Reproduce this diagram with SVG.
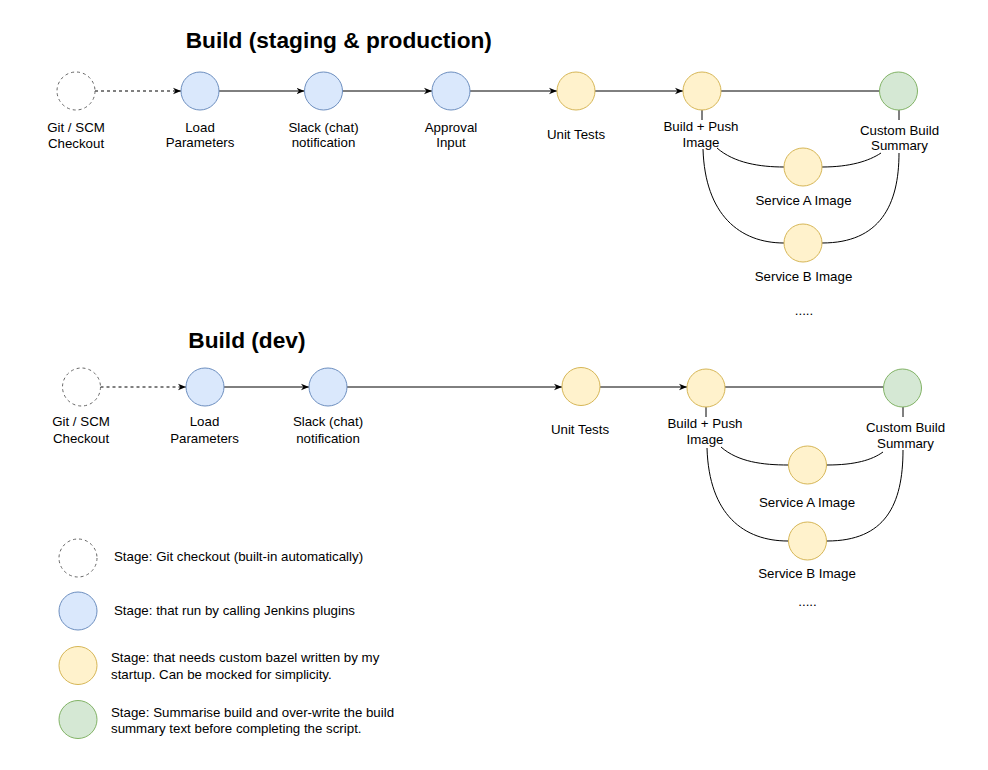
<svg xmlns="http://www.w3.org/2000/svg" width="988" height="770" viewBox="0 0 988 770">
<defs>
<marker id="arr" viewBox="0 0 10 10" refX="10" refY="5" markerWidth="8" markerHeight="8" markerUnits="userSpaceOnUse" orient="auto">
<path d="M0,1 L10,5 L0,9 L3,5 z" fill="#000"/>
</marker>
<style>
text{font-family:"Liberation Sans",Arial,Helvetica,sans-serif;font-size:13.3px;fill:#000}
.t{font-size:22.7px;font-weight:bold}
.m{text-anchor:middle}
.git{fill:#fff;stroke:#666;stroke-dasharray:3 3}
.blue{fill:#dae8fc;stroke:#6c8ebf}
.yel{fill:#fff2cc;stroke:#d6b656}
.grn{fill:#d5e8d4;stroke:#82b366}
.e{fill:none;stroke:#000;stroke-width:1}
.a{marker-end:url(#arr)}
.d{stroke-dasharray:3 3}
</style>
</defs>
<rect width="988" height="770" fill="#fff"/>
<text class="t" x="185.7" y="48">Build (staging &amp; production)</text>
<text class="t" x="188.3" y="348">Build (dev)</text>

<g id="connectors">
<!-- top row -->
<path class="e a d" d="M95 91 H181"/>
<path class="e a" d="M219 91 H304.5"/>
<path class="e a" d="M342.5 91 H432"/>
<path class="e a" d="M470 91 H557"/>
<path class="e a" d="M595 91 H683"/>
<path class="e" d="M721 91 H879.5"/>
<path class="e" d="M702 110 V120"/>
<path class="e" d="M899 110 V120"/>
<path class="e" d="M717 148 C734 163 760 167 784 167"/>
<path class="e" d="M703 149 C705 215 740 243 784 243"/>
<path class="e" d="M822 167 C850 167 869 161 881 153"/>
<path class="e" d="M822 243 C880 243 899 205 899 153"/>
<!-- bottom row -->
<path class="e a d" d="M100.5 387 H186"/>
<path class="e a" d="M224 387 H309"/>
<path class="e a" d="M347 387 H562"/>
<path class="e a" d="M600 387 H687"/>
<path class="e" d="M725 387 H883.5"/>
<path class="e" d="M706 407 V417"/>
<path class="e" d="M903 407 V417"/>
<path class="e" d="M721 447 C738 462 763 465 788 465"/>
<path class="e" d="M707 448 C709 515 744 541 788 541"/>
<path class="e" d="M827 465 C855 465 872 460 883 452"/>
<path class="e" d="M827 541 C885 541 903 505 903 450"/>
</g>

<!-- top row nodes -->
<g id="t-git"><circle class="git" cx="76" cy="91" r="19"/><text class="m" x="76" y="131.5">Git / SCM</text><text class="m" x="76" y="147.5">Checkout</text></g>
<g id="t-load"><circle class="blue" cx="200" cy="91" r="19"/><text class="m" x="200" y="131.5">Load</text><text class="m" x="200" y="147">Parameters</text></g>
<g id="t-slack"><circle class="blue" cx="323.5" cy="91" r="19"/><text class="m" x="323.5" y="131.5">Slack (chat)</text><text class="m" x="323.5" y="147">notification</text></g>
<g id="t-approval"><circle class="blue" cx="451" cy="91" r="19"/><text class="m" x="451" y="131.5">Approval</text><text class="m" x="451" y="147">Input</text></g>
<g id="t-unit"><circle class="yel" cx="576" cy="91" r="19"/><text class="m" x="576" y="138.5">Unit Tests</text></g>
<g id="t-build"><circle class="yel" cx="702" cy="91" r="19"/><text class="m" x="701" y="130.5">Build + Push</text><text class="m" x="701" y="146.5">Image</text></g>
<g id="t-summary"><circle class="grn" cx="898.5" cy="91" r="19"/><text class="m" x="899.5" y="134.5">Custom Build</text><text class="m" x="899.5" y="150">Summary</text></g>
<g id="t-svcA"><circle class="yel" cx="803" cy="167" r="19"/><text class="m" x="803.5" y="204.5">Service A Image</text></g>
<g id="t-svcB"><circle class="yel" cx="803" cy="243" r="19"/><text class="m" x="803.5" y="280.5">Service B Image</text></g>
<g id="t-more"><text class="m" x="804" y="315">.....</text></g>

<!-- bottom row nodes -->
<g id="b-git"><circle class="git" cx="81.5" cy="387" r="19"/><text class="m" x="81" y="426">Git / SCM</text><text class="m" x="81" y="443">Checkout</text></g>
<g id="b-load"><circle class="blue" cx="205" cy="387" r="19"/><text class="m" x="204.5" y="426">Load</text><text class="m" x="204.5" y="443">Parameters</text></g>
<g id="b-slack"><circle class="blue" cx="328" cy="387" r="19"/><text class="m" x="328" y="426">Slack (chat)</text><text class="m" x="328" y="443">notification</text></g>
<g id="b-unit"><circle class="yel" cx="581" cy="386.5" r="19"/><text class="m" x="580" y="434">Unit Tests</text></g>
<g id="b-build"><circle class="yel" cx="706" cy="388" r="19"/><text class="m" x="705" y="428">Build + Push</text><text class="m" x="705" y="444">Image</text></g>
<g id="b-summary"><circle class="grn" cx="902.5" cy="388" r="19"/><text class="m" x="905.5" y="432">Custom Build</text><text class="m" x="905.5" y="448">Summary</text></g>
<g id="b-svcA"><circle class="yel" cx="807.5" cy="465" r="19"/><text class="m" x="807" y="507">Service A Image</text></g>
<g id="b-svcB"><circle class="yel" cx="807.5" cy="541" r="19"/><text class="m" x="807" y="578">Service B Image</text></g>
<g id="b-more"><text class="m" x="807.5" y="606">.....</text></g>

<!-- legend -->
<g id="legend-git"><circle class="git" cx="78" cy="558" r="19"/><text x="114" y="561">Stage: Git checkout (built-in automatically)</text></g>
<g id="legend-blue"><circle class="blue" cx="78" cy="611" r="19"/><text x="114" y="614.5">Stage: that run by calling Jenkins plugins</text></g>
<g id="legend-yellow"><circle class="yel" cx="78" cy="665.5" r="19"/><text x="111" y="661.5">Stage: that needs custom bazel written by my</text><text x="111" y="678.5">startup. Can be mocked for simplicity.</text></g>
<g id="legend-green"><circle class="grn" cx="78" cy="719.5" r="19"/><text x="111" y="716.5">Stage: Summarise build and over-write the build</text><text x="111" y="732.5">summary text before completing the script.</text></g>
</svg>
